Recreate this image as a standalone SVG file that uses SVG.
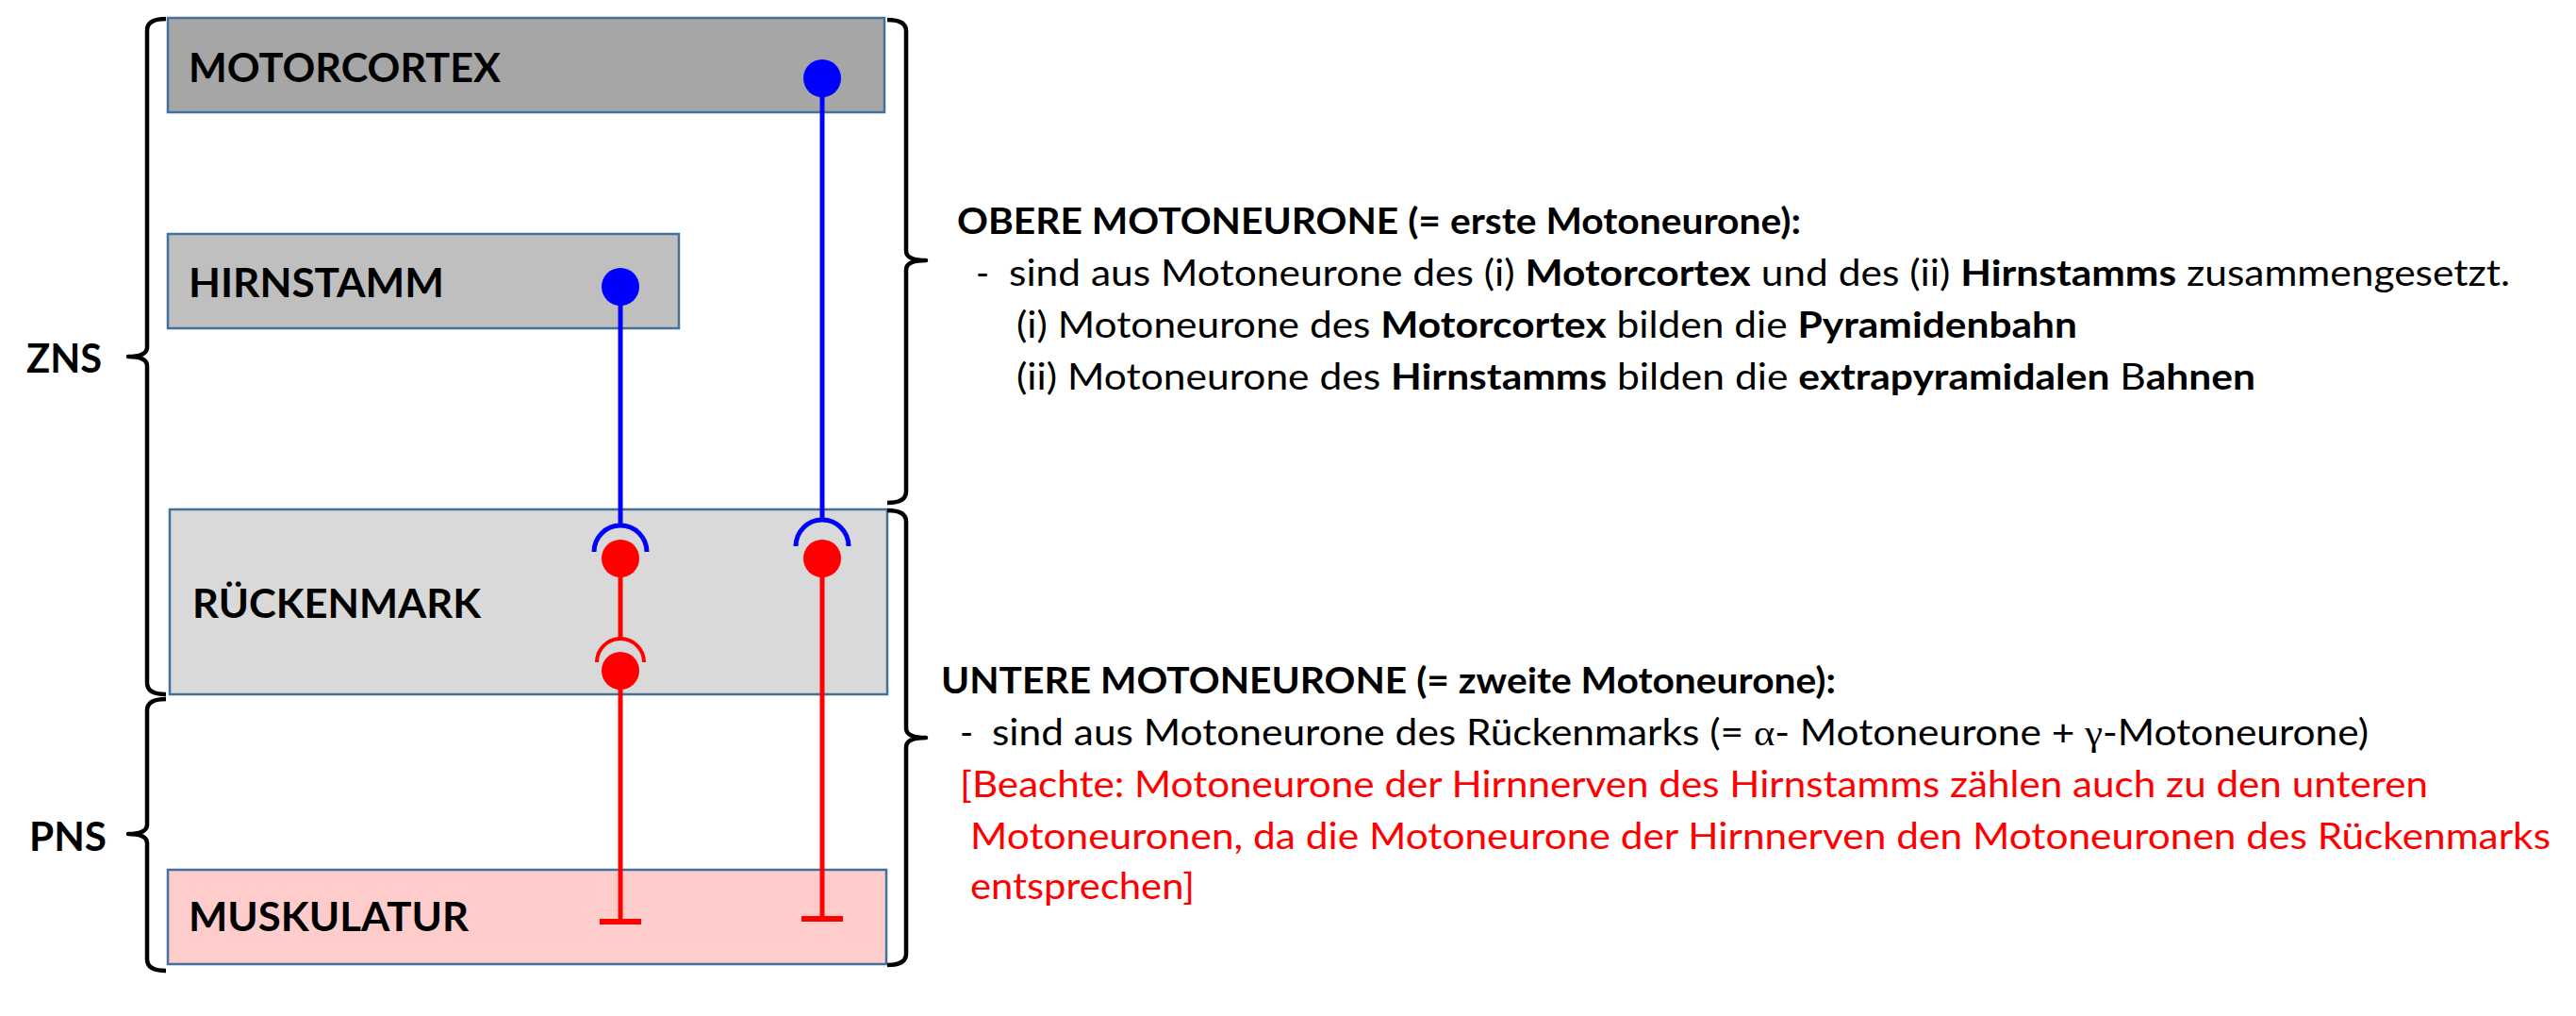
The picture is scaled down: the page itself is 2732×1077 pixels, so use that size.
<svg xmlns="http://www.w3.org/2000/svg" width="2732" height="1077" viewBox="0 0 2732 1077">
<style>
.box{stroke:#41719c;stroke-width:2.5}
.lbl{font-family:Lato,"Liberation Sans",sans-serif;font-weight:bold;font-size:42px;fill:#000}
.txt{font-family:Lato,"Liberation Sans",sans-serif;font-size:38px;fill:#000}
.b{font-weight:bold}
.red{fill:#ff0000}
.gr{font-family:"Liberation Serif",serif}
.brace{fill:none;stroke:#000;stroke-width:4.5;stroke-linejoin:round}
.blue{stroke:#0000ff;fill:none}
.rd{stroke:#ff0000;fill:none}
</style>
<rect width="2732" height="1077" fill="#fff"/>
<g id="motorcortex">
<rect class="box" x="178" y="19" width="760" height="100" fill="#a6a6a6"/>
<text class="lbl" x="200" y="87" textLength="331" lengthAdjust="spacingAndGlyphs">MOTORCORTEX</text>
</g>
<g id="hirnstamm">
<rect class="box" x="178" y="248" width="542" height="100" fill="#bfbfbf"/>
<text class="lbl" x="200" y="315" textLength="271" lengthAdjust="spacingAndGlyphs">HIRNSTAMM</text>
</g>
<g id="rueckenmark">
<rect class="box" x="180" y="540" width="761" height="196" fill="#d9d9d9"/>
<text class="lbl" x="204" y="655" textLength="306" lengthAdjust="spacingAndGlyphs">RÜCKENMARK</text>
</g>
<g id="muskulatur">
<rect class="box" x="178" y="922" width="762" height="100" fill="#ffcccc"/>
<text class="lbl" x="200" y="987" textLength="297" lengthAdjust="spacingAndGlyphs">MUSKULATUR</text>
</g>
<g id="braces">
<path class="brace" d="M176 20 Q156 20 156 32 L156 368 Q156 378 136 378 Q156 378 156 388 L156 724 Q156 736 176 736"/>
<path class="brace" d="M176 741 Q156 741 156 753 L156 874 Q156 884 136 884 Q156 884 156 894 L156 1017 Q156 1029 176 1029"/>
<path class="brace" d="M941 21 Q961 21 961 33 L961 266 Q961 276 982 276 Q961 276 961 286 L961 521 Q961 533 941 533"/>
<path class="brace" d="M941 541 Q961 541 961 553 L961 772 Q961 782 982 782 Q961 782 961 792 L961 1011 Q961 1023 941 1023"/>
<text class="lbl" x="28" y="395" textLength="80" lengthAdjust="spacingAndGlyphs">ZNS</text>
<text class="lbl" x="31" y="902" textLength="82" lengthAdjust="spacingAndGlyphs">PNS</text>
</g>
<g id="connectors">
<line class="blue" x1="872" y1="83" x2="872" y2="551" stroke-width="5"/>
<circle cx="872" cy="83" r="20" fill="#0000ff"/>
<path class="blue" d="M844 579 A28 28 0 0 1 900 579" stroke-width="5"/>
<line class="blue" x1="658" y1="304" x2="658" y2="557" stroke-width="5"/>
<circle cx="658" cy="304" r="20" fill="#0000ff"/>
<path class="blue" d="M630 585 A28 28 0 0 1 686 585" stroke-width="5"/>
<line class="rd" x1="658" y1="592" x2="658" y2="677" stroke-width="5"/>
<circle cx="658" cy="592" r="20" fill="#ff0000"/>
<path class="rd" d="M633 702 A25 25 0 0 1 683 702" stroke-width="4"/>
<line class="rd" x1="658" y1="711" x2="658" y2="977" stroke-width="5"/>
<circle cx="658" cy="711" r="20" fill="#ff0000"/>
<line class="rd" x1="636" y1="977" x2="680" y2="977" stroke-width="6"/>
<line class="rd" x1="872" y1="592" x2="872" y2="974" stroke-width="5"/>
<circle cx="872" cy="592" r="20" fill="#ff0000"/>
<line class="rd" x1="850" y1="974" x2="894" y2="974" stroke-width="6"/>
</g>
<g id="obere-text">
<text class="txt b" x="1015" y="248" textLength="895" lengthAdjust="spacingAndGlyphs">OBERE MOTONEURONE (= erste Motoneurone):</text>
<text class="txt" x="1035" y="303">-</text>
<text class="txt" x="1070" y="303" textLength="1592" lengthAdjust="spacingAndGlyphs">sind aus Motoneurone des (i) <tspan class="b">Motorcortex</tspan> und des (ii) <tspan class="b">Hirnstamms</tspan> zusammengesetzt.</text>
<text class="txt" x="1078" y="358" textLength="1125" lengthAdjust="spacingAndGlyphs">(i) Motoneurone des <tspan class="b">Motorcortex</tspan> bilden die <tspan class="b">Pyramidenbahn</tspan></text>
<text class="txt" x="1078" y="413" textLength="1314" lengthAdjust="spacingAndGlyphs">(ii) Motoneurone des <tspan class="b">Hirnstamms</tspan> bilden die <tspan class="b">extrapyramidalen</tspan> B<tspan class="b">ahnen</tspan></text>
</g>
<g id="untere-text">
<text class="txt b" x="998" y="735" textLength="949" lengthAdjust="spacingAndGlyphs">UNTERE MOTONEURONE (= zweite Motoneurone):</text>
<text class="txt" x="1018" y="790">-</text>
<text class="txt" x="1052" y="790" textLength="1460" lengthAdjust="spacingAndGlyphs">sind aus Motoneurone des Rückenmarks (= <tspan class="gr">α</tspan>- Motoneurone + <tspan class="gr">γ</tspan>-Motoneurone)</text>
<text class="txt red" x="1018" y="845" textLength="1557" lengthAdjust="spacingAndGlyphs">[Beachte: Motoneurone der Hirnnerven des Hirnstamms zählen auch zu den unteren</text>
<text class="txt red" x="1029" y="900" textLength="1676" lengthAdjust="spacingAndGlyphs">Motoneuronen, da die Motoneurone der Hirnnerven den Motoneuronen des Rückenmarks</text>
<text class="txt red" x="1029" y="953" textLength="238" lengthAdjust="spacingAndGlyphs">entsprechen]</text>
</g>
</svg>
